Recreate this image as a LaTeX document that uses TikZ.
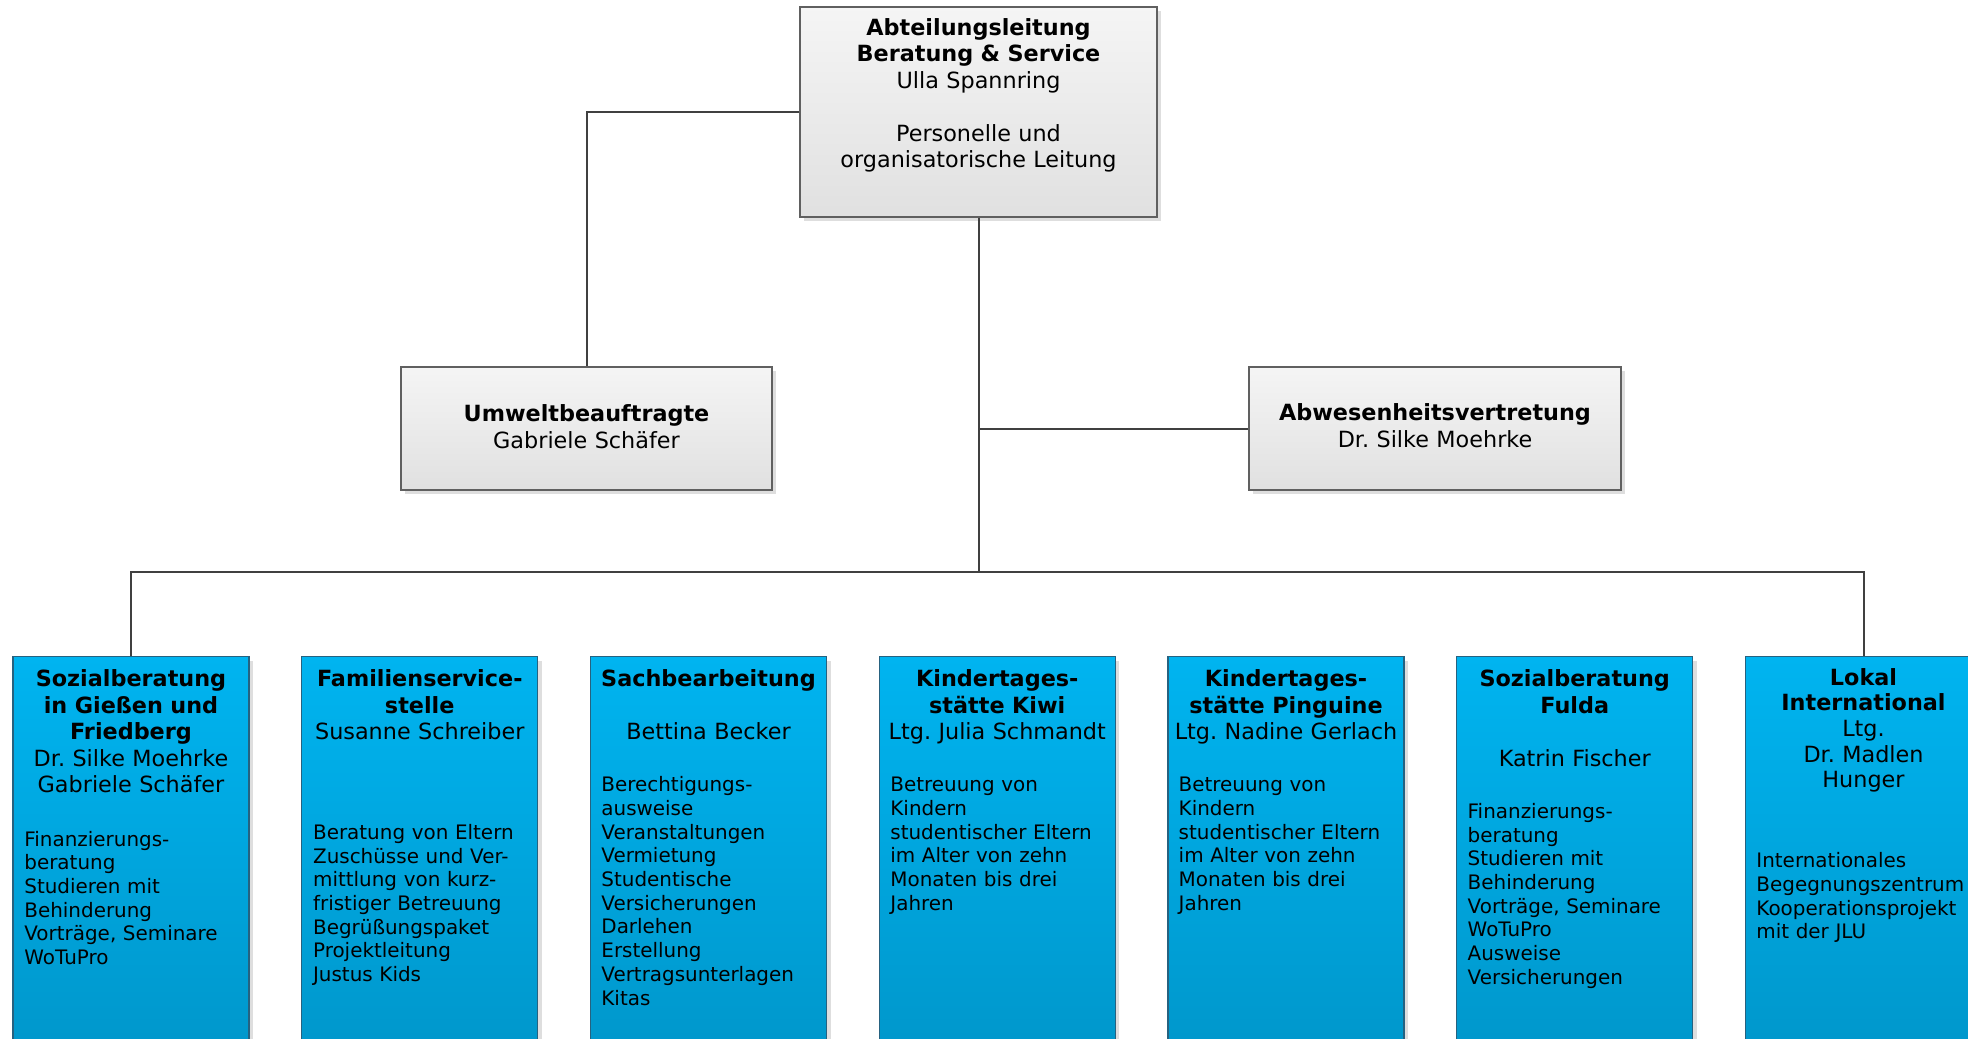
\documentclass[tikz,border=0pt]{standalone}
\usepackage{fontspec}
\setmainfont{DejaVu Sans}
\usepackage{xcolor}
\usetikzlibrary{shadows}
\definecolor{boxline}{RGB}{96,96,96}
\definecolor{blueline}{RGB}{38,98,128}
\definecolor{bluetop}{RGB}{0,180,240}
\definecolor{bluebot}{RGB}{0,150,202}
\definecolor{wiregray}{RGB}{64,64,64}
\frenchspacing

\begin{document}
\begin{tikzpicture}[x=0.5bp,y=-0.5bp,
  graybox/.style={draw=boxline,line width=0.6bp,top color=black!4,bottom color=black!12,
    drop shadow={shadow xshift=2bp,shadow yshift=-2bp,fill=black!13,opacity=1},inner sep=0pt},
  bluebox/.style={draw=blueline,line width=0.6bp,top color=bluetop,bottom color=bluebot,
    drop shadow={shadow xshift=2bp,shadow yshift=-2bp,fill=black!13,opacity=1},
    minimum width=118bp,minimum height=205bp,anchor=north,inner sep=0pt},
  head/.style={anchor=base,text width=120bp,align=center,inner sep=0pt,
    font=\fontsize{11.2}{13.3}\selectfont},
  desc/.style={anchor=base west,text width=130bp,align=left,inner sep=0pt,
    font=\fontsize{10}{11.9}\selectfont},
  link/.style={draw=wiregray,line width=1bp}]
  \useasboundingbox (0,0) rectangle (1968,1038);
  \clip (0,0) rectangle (1968,1038);

  % boxes
  \node[graybox,minimum width=178.5bp,minimum height=105bp] (top) at (978.5,112) {};
  \node[graybox,minimum width=185.5bp,minimum height=61.5bp] (umw) at (586.5,428.5) {};
  \node[graybox,minimum width=186bp,minimum height=61.5bp] (abw) at (1435,428.5) {};
  \foreach \i in {1,...,7}
    \node[bluebox] (b\i) at ({131+(\i-1)*288.75},656) {};

  % lines
  \coordinate (bus) at (978.5,572);
  \draw[link] (top.west) -| (umw.north);
  \draw[link] (top.south) -- (bus);
  \draw[link] (top.south |- abw.west) -- (abw.west);
  \draw[link] (b1.north) |- (bus) -| (b7.north);

  % texts upper part
  \node[head,text width=178bp] (topt) at (978.5,35) {\textbf{Abteilungsleitung}\\ \textbf{Beratung \& Service}\\ Ulla Spannring\\[13.3bp] Personelle und\\ organisatorische Leitung};
  \node[head,text width=180bp] (umwt) at (586.5,421.5) {\textbf{Umweltbeauftragte}\\ Gabriele Schäfer};
  \node[head,text width=180bp] (abwt) at (1435,420.7) {\textbf{Abwesenheitsvertretung}\\ Dr. Silke Moehrke};

  % texts blue boxes
  \node[head] (h1) at (131,686.5) {\textbf{Sozialberatung}\\ \textbf{in Gießen und}\\ \textbf{Friedberg}\\ Dr. Silke Moehrke\\ Gabriele Schäfer};
  \node[head] (h2) at (419.75,686.5) {\textbf{Familienservice-}\\ \textbf{stelle}\\ Susanne Schreiber};
  \node[head] (h3) at (708.5,686.5) {\textbf{Sachbearbeitung}\\[13.3bp] Bettina Becker};
  \node[head] (h4) at (997.25,686.5) {\textbf{Kindertages-}\\ \textbf{stätte Kiwi}\\ Ltg. Julia Schmandt};
  \node[head] (h5) at (1286,686.5) {\textbf{Kindertages-}\\ \textbf{stätte Pinguine}\\ Ltg. Nadine Gerlach};
  \node[head] (h6) at (1574.75,686.5) {\textbf{Sozialberatung}\\ \textbf{Fulda}\\[13.3bp] Katrin Fischer};
  \node[head,font=\fontsize{11.2}{12.9}\selectfont] (h7) at (1863.5,685) {\textbf{Lokal}\\ \textbf{International}\\ Ltg.\\ Dr. Madlen\\ Hunger};

  \node[desc] (d1) at (24,846) {Finanzierungs-\\ beratung\\ Studieren mit\\ Behinderung\\ Vorträge, Seminare\\ WoTuPro};
  \node[desc] (d2) at (312.7,839.3) {Beratung von Eltern\\ Zuschüsse und Ver-\\ mittlung von kurz-\\ fristiger Betreuung\\ Begrüßungspaket\\ Projektleitung\\ Justus Kids};
  \node[desc] (d3) at (601,791.7) {Berechtigungs-\\ ausweise\\ Veranstaltungen\\ Vermietung\\ Studentische\\ Versicherungen\\ Darlehen\\ Erstellung\\ Vertragsunterlagen\\ Kitas};
  \node[desc] (d4) at (890,791.7) {Betreuung von\\ Kindern\\ studentischer Eltern\\ im Alter von zehn\\ Monaten bis drei\\ Jahren};
  \node[desc] (d5) at (1178.3,791.7) {Betreuung von\\ Kindern\\ studentischer Eltern\\ im Alter von zehn\\ Monaten bis drei\\ Jahren};
  \node[desc] (d6) at (1467.3,818.3) {Finanzierungs-\\ beratung\\ Studieren mit\\ Behinderung\\ Vorträge, Seminare\\ WoTuPro\\ Ausweise\\ Versicherungen};
  \node[desc] (d7) at (1756,867.7) {Internationales\\ Begegnungszentrum\\ Kooperationsprojekt\\ mit der JLU};
\end{tikzpicture}
\end{document}
